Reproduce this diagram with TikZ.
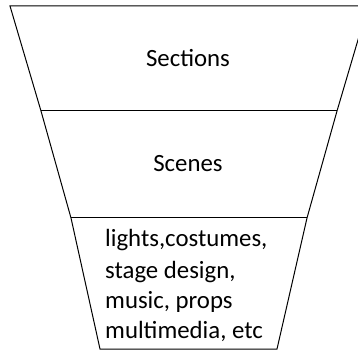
\documentclass[tikz,border=0pt]{standalone}
\usepackage{fontspec}
\setmainfont{Carlito}
\begin{document}
\begin{tikzpicture}[x=1pt,y=-1pt,
  edge/.style={draw=black,line width=1pt,line join=miter},
  lbl/.style={inner sep=0pt,font=\fontsize{24.8}{30.6}\selectfont}]
\useasboundingbox (0,0) rectangle (358,352);
\clip (0,0) rectangle (358,352);
\coordinate (tl) at (10,6);
\coordinate (tr) at (368,6);
\coordinate (al) at (41,111);
\coordinate (ar) at (337,111);
\coordinate (bl) at (71,218);
\coordinate (br) at (307,218);
\coordinate (cl) at (100,349);
\coordinate (cr) at (277,349);
\draw[edge] (tl) -- (tr) -- (ar) -- (br) -- (cr) -- (cl) -- (bl) -- (al) -- cycle;
\draw[edge] (al) -- (ar);
\draw[edge] (bl) -- (br);
\node[lbl,anchor=base] (sec) at (188,67) {Sections};
\node[lbl,anchor=base] (sce) at (188,172) {Scenes};
\node[lbl,anchor=base west] (l1) at (105,247) {lights,costumes,};
\node[lbl,anchor=base west] (l2) at (105,278) {stage design,};
\node[lbl,anchor=base west] (l3) at (105,308) {music, props};
\node[lbl,anchor=base west] (l4) at (105,338) {multimedia, etc};
\end{tikzpicture}
\end{document}
